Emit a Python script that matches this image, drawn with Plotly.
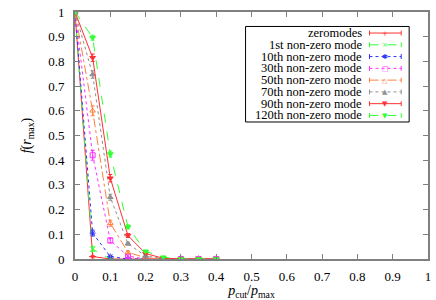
import plotly.graph_objects as go

x_vals = [0, 0.05, 0.1, 0.15, 0.2, 0.25, 0.3, 0.35, 0.4]

names = ["zeromodes", "1st non-zero mode", "10th non-zero mode", "30th non-zero mode",
         "50th non-zero mode", "70th non-zero mode", "90th non-zero mode", "120th non-zero mode"]

y_zero = [1.0, 0.01, 0.0, 0.0, 0.0, 0.0, 0.0, 0.0, 0.0]
y_1st = [1.0, 0.04, 0.0, 0.0, 0.0, 0.0, 0.0, 0.0, 0.0]
y_10th = [1.0, 0.105, 0.01, 0.0, 0.0, 0.0, 0.0, 0.0, 0.0]
y_30th = [1.0, 0.42, 0.075, 0.012, 0.0, 0.0, 0.0, 0.0, 0.0]
y_50th = [1.0, 0.60, 0.145, 0.027, 0.005, 0.0, 0.0, 0.0, 0.0]
y_70th = [1.0, 0.747, 0.25, 0.062, 0.012, 0.002, 0.0, 0.0, 0.0]
y_90th = [1.0, 0.815, 0.327, 0.095, 0.022, 0.003, 0.0, 0.0, 0.0]
y_120th = [1.0, 0.896, 0.425, 0.13, 0.031, 0.007, 0.0, 0.0, 0.0]

e_zero = [0, 0.005, 0, 0, 0, 0, 0, 0, 0]
e_1st = [0, 0.01, 0, 0, 0, 0, 0, 0, 0]
e_10th = [0, 0.012, 0.005, 0, 0, 0, 0, 0, 0]
e_30th = [0, 0.02, 0.01, 0.005, 0, 0, 0, 0, 0]
e_50th = [0, 0.02, 0.012, 0.005, 0, 0, 0, 0, 0]
e_70th = [0, 0.015, 0.012, 0.006, 0, 0, 0, 0, 0]
e_90th = [0, 0.015, 0.015, 0.008, 0.003, 0, 0, 0, 0]
e_120th = [0, 0.01, 0.012, 0.008, 0.004, 0, 0, 0, 0]

ys = [y_zero, y_1st, y_10th, y_30th, y_50th, y_70th, y_90th, y_120th]
errs = [e_zero, e_1st, e_10th, e_30th, e_50th, e_70th, e_90th, e_120th]
colors = ["#ff3030", "#30ff30", "#3030ff", "#ff30ff", "#ff8040", "#909090", "#ff3030", "#30ff30"]
dashes = ["solid", "dash", "dot", "dot", "dashdot", "dot", "solid", "dash"]
symbols = ["cross-thin-open", "x-thin-open", "asterisk-open", "square-open",
           "triangle-up-open", "triangle-up", "triangle-down", "triangle-down"]
legend_glyphs = ["+", "×", "✱", "□", "△", "▲", "▼", "▼"]

FONT = "Liberation Serif, Times New Roman, serif"

fig = go.Figure()
for n, y, e, c, d, s in zip(names, ys, errs, colors, dashes, symbols):
    fig.add_trace(go.Scatter(
        x=x_vals, y=y, name=n, mode="lines+markers", showlegend=False,
        line=dict(color=c, width=1, dash=d),
        marker=dict(symbol=s, size=5, color=c, line=dict(color=c, width=1)),
        error_y=dict(type="data", array=e, visible=True, color=c, thickness=1, width=2),
    ))

# --- gnuplot-style legend box (layout decoration in paper coordinates) ---
W, H = 436, 300
ML, MR, MT, MB = 75, 5, 5, 39
PW, PH = W - ML - MR, H - MT - MB


def px(xp):
    return (xp - ML) / PW


def py(yp):
    return (H - MB - yp) / PH


box_l, box_r, box_t, box_b = 247, 412, 20, 119
row0, row_step = 26.8, 12.2
text_r = 365
smp_l, smp_r, smp_c = 372, 404, 388

shapes = [dict(type="rect", xref="paper", yref="paper",
               x0=px(box_l), x1=px(box_r), y0=py(box_b), y1=py(box_t),
               line=dict(color="black", width=1), fillcolor="white", layer="above")]
annotations = []
for i, (n, c, d, g) in enumerate(zip(names, colors, dashes, legend_glyphs)):
    yy = row0 + i * row_step
    shapes.append(dict(type="line", xref="paper", yref="paper",
                       x0=px(smp_l), x1=px(smp_r), y0=py(yy), y1=py(yy),
                       line=dict(color=c, width=1, dash=d), layer="above"))
    for xe in (smp_l, smp_r):
        shapes.append(dict(type="line", xref="paper", yref="paper",
                           x0=px(xe), x1=px(xe), y0=py(yy - 2.5), y1=py(yy + 2.5),
                           line=dict(color=c, width=1), layer="above"))
    annotations.append(dict(text=n, xref="paper", yref="paper", x=px(text_r), y=py(yy),
                            xanchor="right", yanchor="middle", showarrow=False,
                            height=12, borderpad=0,
                            font=dict(family=FONT, size=12.5, color="black")))
    annotations.append(dict(text=g, xref="paper", yref="paper", x=px(smp_c), y=py(yy),
                            xanchor="center", yanchor="middle", showarrow=False,
                            height=9, borderpad=0,
                            font=dict(family="DejaVu Sans", size=7, color=c)))

axis_common = dict(
    showgrid=False, zeroline=False, showline=True, mirror="ticks",
    linecolor="#808080", linewidth=2, ticks="inside", ticklen=5,
    tickcolor="#808080", tickwidth=1,
    tickfont=dict(family=FONT, size=13, color="black"),
    range=[0, 1], dtick=0.1, tickformat="~g",
    ticklabeloverflow="allow",
)

fig.update_layout(
    width=W, height=H,
    margin=dict(l=ML, r=MR, t=MT, b=MB),
    paper_bgcolor="white", plot_bgcolor="white",
    font=dict(family=FONT, color="black"),
    xaxis=dict(title=dict(text="<i>p</i><sub>cut</sub>/<i>p</i><sub>max</sub>",
                          font=dict(family=FONT, size=14, color="black"), standoff=2),
               ticklabelstandoff=4, **axis_common),
    yaxis=dict(title=dict(text="<i>f</i>(<i>r</i><sub>max</sub>)",
                          font=dict(family=FONT, size=14, color="black"), standoff=13),
               ticklabelstandoff=6, **axis_common),
    shapes=shapes,
    annotations=annotations,
    showlegend=False,
)

fig.write_html("out.html", config={"displayModeBar": False},
               post_script="document.body.style.margin='0';")
